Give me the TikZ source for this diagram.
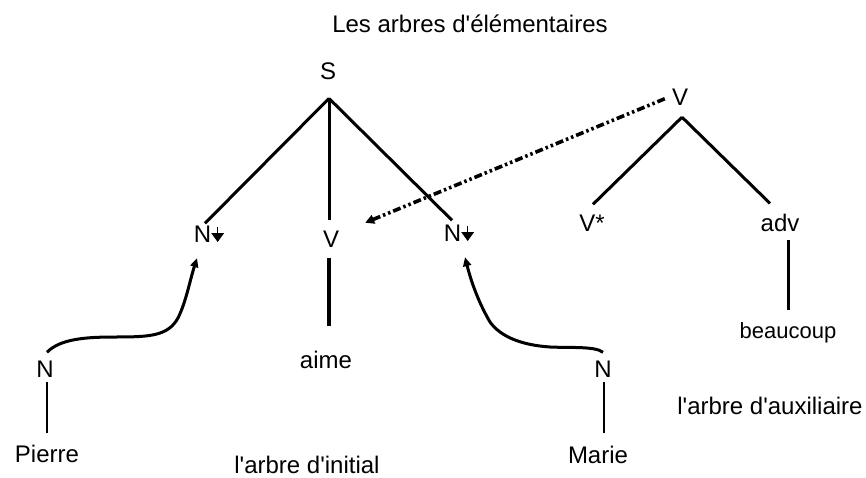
\documentclass[tikz,border=0pt]{standalone}
\usepackage{fontspec}
\setmainfont{Liberation Sans}[Ligatures=TeXOff]
\usetikzlibrary{arrows.meta,calc}
\newcommand{\darr}{\tikz[baseline=0pt]{\fill (0pt,0pt) -- (-6.5pt,9pt) -- (6.5pt,9pt) -- cycle; \draw[line width=1.6pt] (0pt,8pt) -- (0pt,15pt);}}
\begin{document}
\begin{tikzpicture}[x=1pt,y=-1pt,
  lbl/.style={inner sep=0pt,anchor=base,font=\fontsize{24}{28}\selectfont},
  small/.style={inner sep=0pt,anchor=base,font=\fontsize{22}{26}\selectfont},
  tree/.style={line width=3pt},
  thin/.style={line width=1.5pt},
  sub/.style={line width=3pt,-{Triangle[length=9pt,width=8pt]}},
  adj/.style={line width=3.6pt,dash pattern=on 8pt off 3pt on 2.5pt off 3pt on 2.5pt off 3pt,-{Triangle[length=9pt,width=9pt]}}]
\useasboundingbox (0,0) rectangle (866,478);
% nodes
\node[lbl] (title) at (470,33) {Les arbres d'élémentaires};
\node[lbl] (S) at (328,80) {S};
\node[lbl] (N1) at (209,242) {N\darr};
\node[lbl] (Vm) at (331,247) {V};
\node[lbl] (N2) at (459,241) {N\darr};
\node[lbl] (aime) at (326,368) {aime};
\node[lbl] (Nl) at (45,377) {N};
\node[lbl] (Pierre) at (47,462) {Pierre};
\node[lbl] (Nr) at (603,377) {N};
\node[lbl] (Marie) at (598,463) {Marie};
\node[lbl] (init) at (307,473) {l'arbre d'initial};
\node[lbl] (Vt) at (680,106) {V};
\node[lbl] (Vs) at (592,232) {V*};
\node[lbl] (adv) at (780,232) {adv};
\node[small] (beau) at (788,338) {beaucoup};
\node[lbl] (aux) at (770,414) {l'arbre d'auxiliaire};
% apex coordinates
\coordinate (Sa) at ([shift={(1,18)}]S.south);
\coordinate (Va) at ([shift={(2,11)}]Vt.south);
% initial tree
\draw[tree] (Sa) -- ([shift={(-4,-2)}]N1.north);
\draw[tree] (Sa) -- ([shift={(-2,-10)}]Vm.north);
\draw[tree] (Sa) -- ([shift={(-7,-4)}]N2.north);
\draw[line width=4pt] ([shift={(-2,11)}]Vm.south) -- ([shift={(3,-24)}]aime.north);
% auxiliary tree
\draw[tree] (Va) -- ([shift={(1,-11)}]Vs.north);
\draw[tree] (Va) -- ([shift={(-10,-11)}]adv.north);
\draw[tree] ([shift={(8,8)}]adv.south) -- ([shift={(0,-12)}]beau.north);
% initial trees N
\draw[thin] ([shift={(2,5)}]Nl.south) -- ([shift={(0,-11)}]Pierre.north);
\draw[thin] ([shift={(1,5)}]Nr.south) -- ([shift={(6,-12)}]Marie.north);
% substitution arrows
\draw[sub] ([shift={(2,-8)}]Nl.north) .. controls (60,339) and (85,337) .. (115,337)
  .. controls (150,337) and (168,336) .. (178,318)
  .. controls (186,302) and (190,280) .. ([shift={(-12,16)}]N1.south);
\draw[sub] ([shift={(0,-8)}]Nr.north) .. controls (595,346) and (570,348) .. (550,347)
  .. controls (520,345) and (500,336) .. (490,322)
  .. controls (480,305) and (472,285) .. ([shift={(6,16)}]N2.south);
% adjunction
\draw[adj] ([shift={(-7,1)}]Vt.west) -- ([shift={(26,-16)}]Vm.east);
\end{tikzpicture}
\end{document}
